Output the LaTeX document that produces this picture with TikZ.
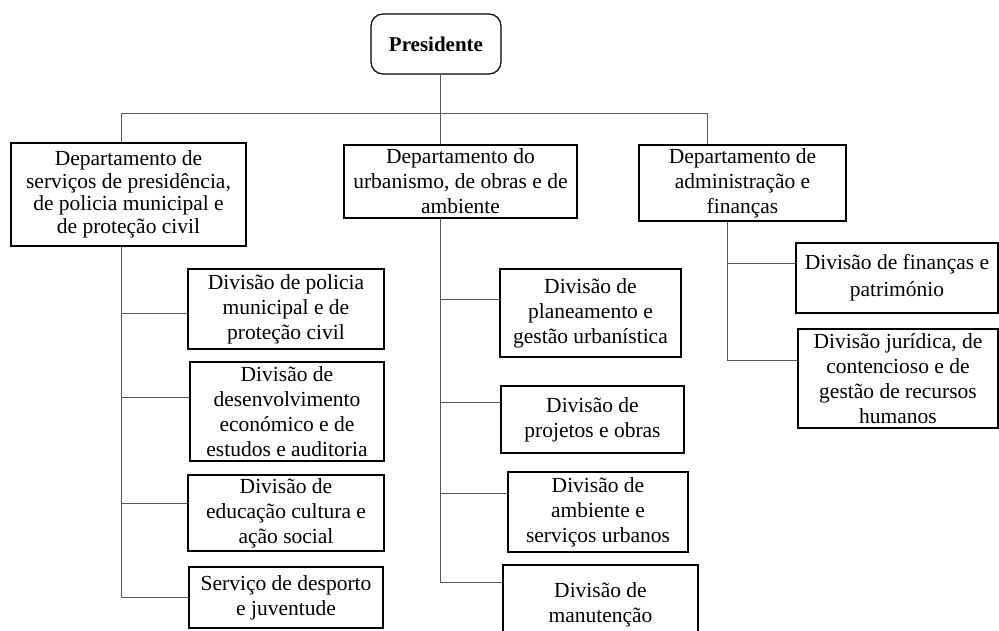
\documentclass[tikz,border=0pt]{standalone}
\usepackage{fontspec}
\setmainfont{Liberation Serif}
\usetikzlibrary{positioning}
\tikzset{
  unit/.style={draw, line width=1.2pt, align=center, inner sep=0pt,
    font=\fontsize{21.5}{25}\selectfont},
  link/.style={draw=black!65, line width=1pt},
}

\begin{document}
\begin{tikzpicture}[x=1pt,y=-1pt]
            \clip (0,0) rectangle (999,630);
            % top and departments
            \node[unit, rounded corners=12pt, minimum width=130pt, minimum height=60pt,
              font=\fontsize{21}{25}\selectfont\bfseries] (pr) at (436,44) {Presidente};
            \node[unit, minimum width=235pt, minimum height=103pt,
              font=\fontsize{21.5}{22.5}\selectfont] (d1) at (128.5,194.5)
              {Departamento de\\serviços de presidência,\\de policia municipal e\\de proteção civil};
            \node[unit, minimum width=233pt, minimum height=73pt] (d2) at (460.5,181.5)
              {Departamento do\\urbanismo, de obras e de\\ambiente};
            \node[unit, minimum width=207pt, minimum height=76pt] (d3) at (742.5,183)
              {Departamento de\\administração e\\finanças};
            % divisions
            \node[unit, minimum width=196pt, minimum height=80pt] (s1) at (286,309)
              {Divisão de policia\\municipal e de\\proteção civil};
            \node[unit, minimum width=194pt, minimum height=99pt] (s2) at (287,411.5)
              {Divisão de\\desenvolvimento\\económico e de\\estudos e auditoria};
            \node[unit, minimum width=196pt, minimum height=76pt] (s3) at (286,513)
              {Divisão de\\educação cultura e\\ação social};
            \node[unit, minimum width=194pt, minimum height=61pt] (s4) at (286,597.5)
              {Serviço de desporto\\e juventude};
            \node[unit, minimum width=181pt, minimum height=88pt] (u1) at (590.5,313)
              {Divisão de\\planeamento e\\gestão urbanística};
            \node[unit, minimum width=183pt, minimum height=67pt] (u2) at (592.5,419.5)
              {Divisão de\\projetos e obras};
            \node[unit, minimum width=180pt, minimum height=80pt] (u3) at (598,512)
              {Divisão de\\ambiente e\\serviços urbanos};
            \node[unit, minimum width=195pt, minimum height=80pt] (u4) at (600.5,605)
              {Divisão de\\manutenção};
            \node[unit, minimum width=202pt, minimum height=70pt,
              font=\fontsize{21.5}{27}\selectfont] (f1) at (897,278)
              {Divisão de finanças e\\património};
            \node[unit, minimum width=200pt, minimum height=99pt] (f2) at (898,378.5)
              {Divisão jurídica, de\\contencioso e de\\gestão de recursos\\humanos};
            % connectors
            \coordinate (b1) at (121,113);
            \coordinate (b2) at (440,113);
            \coordinate (b3) at (707,113);
            \draw[link] (pr.south -| b2) -- (b2);
            \draw[link] (b1) -- (b3);
            \draw[link] (b1) -- (b1 |- d1.north);
            \draw[link] (b2) -- (b2 |- d2.north);
            \draw[link] (b3) -- (b3 |- d3.north);
            \foreach \n/\s in {s1/-4pt, s2/14.5pt, s3/10pt, s4/0pt}
              \draw[link] (b1 |- d1.south) |- ([yshift=\s]\n.west);
            \foreach \n/\s in {u1/14pt, u2/17.5pt, u3/19pt, u4/23pt}
              \draw[link] (b2 |- d2.south) |- ([yshift=\s]\n.west);
            \foreach \n/\s in {f1/15pt, f2/18.5pt}
              \draw[link] ([xshift=-15.5pt]d3.south) |- ([yshift=\s]\n.west);
\end{tikzpicture}
\end{document}
